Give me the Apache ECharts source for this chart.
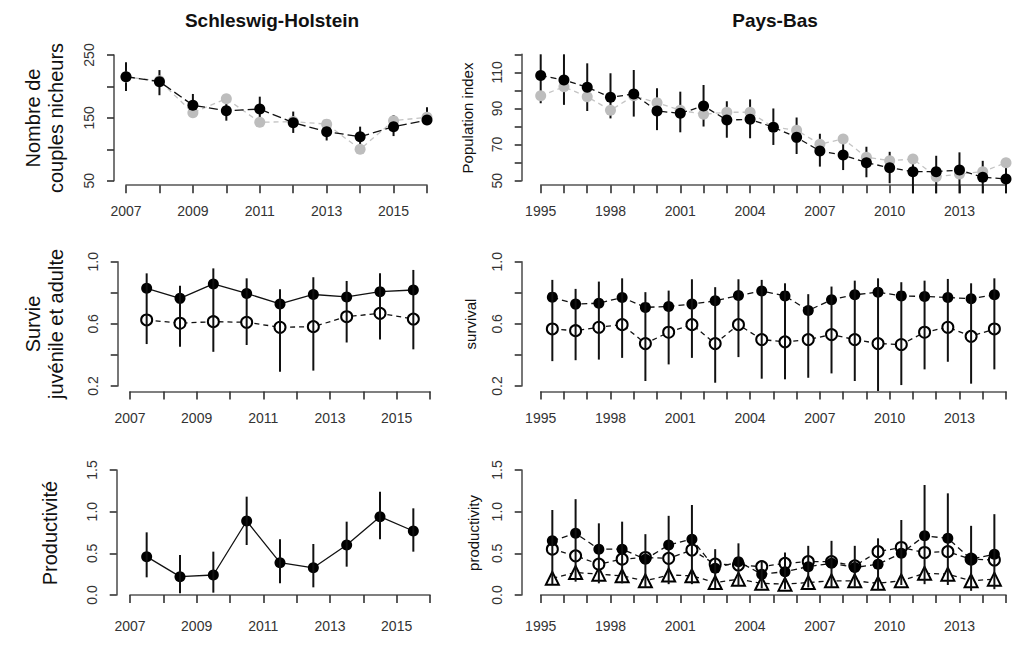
<!DOCTYPE html>
<html><head><meta charset="utf-8">
<script src="https://cdn.jsdelivr.net/npm/echarts/dist/echarts.min.js"></script>
<style>html,body{margin:0;padding:0;background:#fff}#c{width:1024px;height:646px}</style>
</head><body><div id="c"></div><script>
// ---------------- DATA ----------------
const shYears = [2007,2008,2009,2010,2011,2012,2013,2014,2015,2016];
const shYearsMid = [2007.5,2008.5,2009.5,2010.5,2011.5,2012.5,2013.5,2014.5,2015.5];
const nlYears = [1995,1996,1997,1998,1999,2000,2001,2002,2003,2004,2005,2006,2007,2008,2009,2010,2011,2012,2013,2014,2015];
const nlYearsMid = [1995.5,1996.5,1997.5,1998.5,1999.5,2000.5,2001.5,2002.5,2003.5,2004.5,2005.5,2006.5,2007.5,2008.5,2009.5,2010.5,2011.5,2012.5,2013.5,2014.5];

const shLabelYears = [2007,2009,2011,2013,2015];
const nlLabelYears = [1995,1998,2001,2004,2007,2010,2013];

// Schleswig-Holstein: breeding pairs
const shPairsModel = [215.5,207.6,170,161.4,164,142.3,128,120,136,146.5];
const shPairsCount = [215,209,158,180.5,143,144,140,100,145.5,151];
const shPairsLo = [192.7,186,151,145.5,151,126,114,107,121,138.5];
const shPairsHi = [238.3,226,188,172,183.7,160,146,136,154.5,167];

// Pays-Bas: population index
const nlIndexModel = [108.2,105.8,101.7,96.2,98,88.6,87.3,91.4,83.6,84,79.6,74,66.5,64.2,60,57.2,55,55,55.9,51.9,51];
const nlIndexCount = [97,102,96.5,89,97,93.2,89,86.8,87.9,87.9,79.6,78,70.2,73.1,63,61.1,62,52.2,53.7,55,60];
const nlIndexLo = [92.9,92,88.6,84.5,85.5,78,76.8,80,73.8,73.5,69.8,64.8,57.8,55.9,51.9,48.6,43,43,43,43,43];
const nlIndexHi = [120,120,115,109.5,111.3,101.2,99.3,103,94,95,90,85,76,72,68.8,66,63,63.8,65.7,61,58];

// Schleswig-Holstein: survival
const shSurvAdult = [0.829,0.764,0.857,0.796,0.728,0.789,0.773,0.807,0.818];
const shSurvJuv = [0.625,0.604,0.614,0.61,0.578,0.582,0.646,0.668,0.631];
const shSurvLo = [0.47,0.453,0.42,0.464,0.292,0.299,0.48,0.5,0.436];
const shSurvHi = [0.925,0.846,0.957,0.893,0.822,0.9,0.876,0.925,0.947];

// Pays-Bas: survival
const nlSurvAdult = [0.772,0.727,0.733,0.77,0.706,0.712,0.727,0.748,0.782,0.812,0.78,0.686,0.755,0.787,0.804,0.78,0.776,0.77,0.761,0.787];
const nlSurvJuv = [0.567,0.556,0.578,0.595,0.473,0.546,0.595,0.473,0.595,0.499,0.484,0.499,0.531,0.499,0.473,0.467,0.546,0.578,0.52,0.567];
const nlSurvLo = [0.36,0.366,0.37,0.381,0.232,0.339,0.381,0.221,0.386,0.247,0.243,0.253,0.281,0.232,0.168,0.206,0.307,0.356,0.215,0.307];
const nlSurvHi = [0.883,0.825,0.872,0.893,0.804,0.814,0.887,0.836,0.887,0.883,0.861,0.791,0.84,0.878,0.893,0.868,0.878,0.889,0.861,0.893];

// Schleswig-Holstein: productivity
const shProd = [0.46,0.22,0.24,0.888,0.388,0.326,0.6,0.94,0.768];
const shProdLo = [0.212,0.02,0.028,0.6,0.14,0.092,0.34,0.668,0.52];
const shProdHi = [0.752,0.48,0.52,1.18,0.668,0.612,0.88,1.24,1.04];

// Pays-Bas: productivity (three estimates)
const nlProdA = [0.65,0.74,0.55,0.55,0.43,0.60,0.67,0.32,0.40,0.25,0.28,0.34,0.38,0.33,0.37,0.50,0.71,0.68,0.43,0.49];
const nlProdB = [0.55,0.47,0.37,0.43,0.45,0.44,0.54,0.37,0.36,0.34,0.38,0.40,0.40,0.35,0.52,0.57,0.51,0.52,0.43,0.42];
const nlProdC = [0.20,0.27,0.25,0.23,0.17,0.24,0.23,0.15,0.19,0.14,0.13,0.15,0.17,0.17,0.14,0.17,0.26,0.25,0.17,0.19];
const nlProdLo = [0.13,0.16,0.14,0.14,0.09,0.13,0.13,0.08,0.11,0.08,0.07,0.09,0.09,0.10,0.06,0.12,0.13,0.12,0.05,0.07];
const nlProdHi = [1.02,1.15,0.86,0.88,0.73,0.95,1.08,0.55,0.62,0.42,0.51,0.59,0.65,0.59,0.68,0.90,1.32,1.22,0.83,0.97];

// ---------------- CHART ----------------
const FONT = '"Liberation Sans", Arial, Helvetica, sans-serif';
const AXC = '#555';
const chart = echarts.init(document.getElementById('c'), null, {renderer:'svg'});

const grids = [
  {left:126, top:55, width:301, height:125.7},
  {left:540.7, top:54.3, width:465.3, height:126.4},
  {left:130, top:261.7, width:300, height:124.3},
  {left:540.7, top:261.7, width:465.3, height:124.3},
  {left:130, top:470, width:300, height:125},
  {left:540.7, top:470, width:465.3, height:125}
];

function xAx(gi, min, max, labels, offset) {
  return {type:'value', gridIndex:gi, min:min, max:max, interval:1, offset:offset,
    axisLine:{show:true, lineStyle:{color:AXC, width:1.6}},
    axisTick:{show:true, length:8, lineStyle:{color:'#333', width:1.6}},
    splitLine:{show:false},
    axisLabel:{show:true, margin:19, fontSize:14, color:'#333', fontFamily:FONT,
      showMinLabel:true, showMaxLabel:true,
      formatter:function(v){var r=Math.round(v); return labels.indexOf(r)>=0 ? String(r) : '';}}
  };
}
function yAx(gi, min, max, interval, labels, dec, offset) {
  return {type:'value', gridIndex:gi, min:min, max:max, interval:interval, offset:offset,
    axisLine:{show:true, lineStyle:{color:AXC, width:1.6}},
    axisTick:{show:true, length:7, lineStyle:{color:'#333', width:1.6}},
    splitLine:{show:false},
    axisLabel:{show:true, rotate:90, margin:18, fontSize:14, color:'#333', fontFamily:FONT,
      showMinLabel:true, showMaxLabel:true,
      formatter:function(v){return labels.some(function(l){return Math.abs(l-v)<1e-6;}) ? v.toFixed(dec) : '';}}
  };
}

function pairs(xs, ys){ return xs.map(function(x,i){return [x, ys[i]];}); }
function triples(xs, lo, hi){ return xs.map(function(x,i){return [x, lo[i], hi[i]];}); }

function errSeries(gi, xs, lo, hi, z) {
  return {type:'custom', xAxisIndex:gi, yAxisIndex:gi, z:z, clip:false, silent:true,
    data:triples(xs, lo, hi), encode:{x:0, y:[1,2]},
    renderItem:function(params, api){
      var a = api.coord([api.value(0), api.value(1)]);
      var b = api.coord([api.value(0), api.value(2)]);
      return {type:'line', shape:{x1:a[0], y1:a[1], x2:b[0], y2:b[1]},
        style:{stroke:'#111', lineWidth:2}};
    }};
}
function lineSeries(gi, xs, ys, o) {
  return {type:'line', xAxisIndex:gi, yAxisIndex:gi, z:o.z, clip:false, silent:true,
    data:pairs(xs, ys), symbol:o.symbol, symbolSize:o.size, showSymbol:true,
    lineStyle:{color:o.lineColor, width:o.lw || 1.3, type:o.dash},
    itemStyle:{color:o.color, borderColor:o.color, borderWidth:o.bw || 0}};
}

const BLACK = {symbol:'circle', size:11, color:'#000', lineColor:'#111'};
const GRAY = {symbol:'circle', size:11, color:'#bdbdbd', lineColor:'#c4c4c4'};
const OPEN = {symbol:'emptyCircle', size:11, color:'#000', lineColor:'#111', bw:1.3};
const TRI = {symbol:'emptyTriangle', size:13, color:'#000', lineColor:'#111', bw:1.3};
function w(base, extra){ return Object.assign({}, base, extra); }

const series = [
  // top-left
  errSeries(0, shYears, shPairsLo, shPairsHi, 2),
  lineSeries(0, shYears, shPairsCount, w(GRAY, {dash:[5,4], z:3})),
  lineSeries(0, shYears, shPairsModel, w(BLACK, {dash:[9,4], z:4})),
  // top-right
  errSeries(1, nlYears, nlIndexLo, nlIndexHi, 2),
  lineSeries(1, nlYears, nlIndexCount, w(GRAY, {dash:[5,4], z:3})),
  lineSeries(1, nlYears, nlIndexModel, w(BLACK, {dash:[6,4], z:4})),
  // middle-left
  lineSeries(2, shYearsMid, shSurvAdult, w(BLACK, {dash:'solid', z:3})),
  lineSeries(2, shYearsMid, shSurvJuv, w(OPEN, {dash:[5,4], z:3})),
  errSeries(2, shYearsMid, shSurvLo, shSurvHi, 5),
  // middle-right
  lineSeries(3, nlYearsMid, nlSurvAdult, w(BLACK, {dash:[6,4], z:3})),
  lineSeries(3, nlYearsMid, nlSurvJuv, w(OPEN, {dash:[5,4], z:3})),
  errSeries(3, nlYearsMid, nlSurvLo, nlSurvHi, 5),
  // bottom-left
  lineSeries(4, shYearsMid, shProd, w(BLACK, {dash:'solid', z:3})),
  errSeries(4, shYearsMid, shProdLo, shProdHi, 5),
  // bottom-right
  lineSeries(5, nlYearsMid, nlProdC, w(TRI, {dash:[5,4], z:3})),
  lineSeries(5, nlYearsMid, nlProdB, w(OPEN, {dash:[5,4], z:3})),
  lineSeries(5, nlYearsMid, nlProdA, w(BLACK, {dash:[6,4], z:3})),
  errSeries(5, nlYearsMid, nlProdLo, nlProdHi, 5)
];

function vtext(x, y, txt, size, bold) {
  return {type:'text', x:x, y:y, rotation:Math.PI/2, silent:true,
    style:{text:txt, fontSize:size, fontFamily:FONT, fontWeight:bold?'bold':'normal',
      fill:'#111', textAlign:'center', textVerticalAlign:'middle'}};
}
function htext(x, y, txt, size, bold) {
  return {type:'text', x:x, y:y, silent:true,
    style:{text:txt, fontSize:size, fontFamily:FONT, fontWeight:bold?'bold':'normal',
      fill:'#111', textAlign:'center', textVerticalAlign:'middle'}};
}

chart.setOption({
  animation:false,
  backgroundColor:'#fff',
  grid:grids,
  xAxis:[
    xAx(0, 2007, 2016, shLabelYears, 4.5),
    xAx(1, 1995, 2015, nlLabelYears, 4.5),
    xAx(2, 2007, 2016, shLabelYears, 5.5),
    xAx(3, 1995, 2015, nlLabelYears, 5.5),
    xAx(4, 2007, 2016, shLabelYears, 5),
    xAx(5, 1995, 2015, nlLabelYears, 5)
  ],
  yAxis:[
    yAx(0, 50, 250, 50, [50,150,250], 0, 12),
    yAx(1, 50, 120, 10, [50,70,90,110], 0, 19),
    yAx(2, 0.2, 1.0, 0.2, [0.2,0.6,1.0], 1, 12.3),
    yAx(3, 0.2, 1.0, 0.2, [0.2,0.6,1.0], 1, 19),
    yAx(4, 0, 1.5, 0.5, [0,0.5,1,1.5], 1, 13.3),
    yAx(5, 0, 1.5, 0.5, [0,0.5,1,1.5], 1, 19)
  ],
  series:series,
  graphic:[
    htext(272, 20, 'Schleswig-Holstein', 19, true),
    htext(775, 20, 'Pays-Bas', 19, true),
    vtext(33, 118, 'Nombre de', 20),
    vtext(56, 118, 'couples nicheurs', 20),
    vtext(33, 324, 'Survie', 20),
    vtext(56, 324, 'juvénile et adulte', 20),
    vtext(50, 533, 'Productivité', 20),
    vtext(467, 118, 'Population index', 15),
    vtext(470, 324, 'survival', 15),
    vtext(473, 533, 'productivity', 15)
  ]
});
</script></body></html>
